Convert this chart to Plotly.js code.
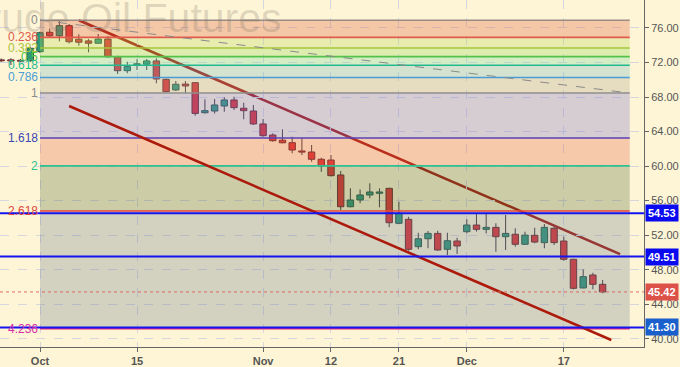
<!DOCTYPE html>
<html>
<head>
<meta charset="utf-8">
<script src="https://cdn.plot.ly/plotly-3.0.1.min.js"></script>
<style>html,body{margin:0;padding:0;background:#fef5d6;}#chart{width:680px;height:367px;}</style>
</head>
<body>
<div id="chart"></div>
<script>
// ---------- DATA ----------
const dates = ['2018-09-25','2018-09-26','2018-09-27','2018-09-28',
 '2018-10-01','2018-10-02','2018-10-03','2018-10-04','2018-10-05','2018-10-08','2018-10-09','2018-10-10','2018-10-11','2018-10-12',
 '2018-10-15','2018-10-16','2018-10-17','2018-10-18','2018-10-19','2018-10-22','2018-10-23','2018-10-24','2018-10-25','2018-10-26',
 '2018-10-29','2018-10-30','2018-10-31','2018-11-01','2018-11-02','2018-11-05','2018-11-06','2018-11-07','2018-11-08','2018-11-09',
 '2018-11-12','2018-11-13','2018-11-14','2018-11-15','2018-11-16','2018-11-19','2018-11-20','2018-11-21','2018-11-23',
 '2018-11-26','2018-11-27','2018-11-28','2018-11-29','2018-11-30','2018-12-03','2018-12-04','2018-12-05','2018-12-06','2018-12-07',
 '2018-12-10','2018-12-11','2018-12-12','2018-12-13','2018-12-14','2018-12-17','2018-12-18','2018-12-19','2018-12-20','2018-12-21'];
const openP  = [72.30,72.30,72.25,72.20, 73.25,75.50,75.10,76.27,74.70,74.50,74.23,74.72,72.67,71.05,
 71.75,71.80,72.18,70.05,68.82,69.50,69.66,66.18,66.38,66.96, 67.66,66.70,66.38,64.88,63.60,63.00,62.71,61.75,61.63,60.79,
 60.70,58.97,55.29,56.07,56.65,56.85,57.42,53.37,53.83, 50.66,51.58,52.20,50.36,51.32,52.40,53.17,52.67,52.90,51.82,
 52.10,50.94,51.98,51.13,52.79,51.32,49.20,45.88,47.38,46.30];
const highP  = [72.45,72.49,72.40,73.76, 75.60,75.95,76.85,76.46,75.27,74.72,75.30,75.07,72.78,72.10,
 72.37,72.40,72.49,70.15,69.86,69.86,69.70,67.74,67.77,67.97, 68.04,67.35,67.08,65.45,63.80,64.26,63.40,63.22,62.44,60.97,
 61.28,59.43,57.42,57.30,58.00,57.42,57.50,55.87,54.14, 52.28,52.48,52.51,52.28,51.70,53.83,54.53,54.53,53.37,54.33,
 52.79,52.40,52.86,53.29,52.98,51.82,49.25,48.04,47.65,46.80];
const lowP   = [72.05,71.71,72.05,72.10, 73.10,74.95,74.45,74.20,73.95,73.18,74.20,72.56,70.67,70.75,
 71.13,71.13,69.60,68.50,68.70,68.43,65.84,66.10,66.10,66.30, 66.50,65.42,64.76,63.40,62.83,62.64,61.48,61.28,60.51,59.35,
 58.80,54.91,55.22,55.69,56.27,55.22,52.90,53.30,50.20, 50.36,50.47,50.20,49.70,49.81,52.20,52.40,52.20,50.08,50.28,
 50.66,50.86,51.05,50.47,50.86,49.04,45.72,45.84,45.72,45.26];
const closeP = [72.20,72.18,72.15,73.65, 75.45,75.10,76.27,74.41,74.35,74.23,74.72,72.67,71.05,71.52,
 71.85,72.18,70.09,68.62,69.48,69.28,66.10,66.42,67.08,67.66, 66.77,66.42,64.88,63.52,62.94,62.70,61.86,61.62,60.79,60.01,
 58.89,55.29,56.07,56.65,57.00,57.00,53.44,54.53,50.36, 51.58,52.20,50.28,51.35,50.74,53.17,52.67,52.90,51.82,52.20,
 50.94,52.00,51.20,52.90,51.13,49.20,45.84,47.19,46.30,45.42];

const tickDates = ['2018-10-01','2018-10-15','2018-11-01','2018-11-12','2018-11-21','2018-12-03','2018-12-17'];
const tickLabels = ['Oct','15','Nov','12','21','Dec','17'];

// Fibonacci extension drawing (bar index = position on the category axis)
const fibStart = 4, fibEnd = 64.8;
const fibPrice0 = 76.90, fibPrice1 = 68.46;
const fibRatios = [0, 0.236, 0.382, 0.5, 0.618, 0.786, 1, 1.618, 2, 2.618, 4.236];
const fibLabels = ['0','0.236','0.382','0.5','0.618','0.786','1','1.618','2','2.618','4.236'];

// Trend channel lines [barIndex, price]
const upperTrend = [[8, 76.90], [63.8, 49.80]];
const lowerTrend = [[7, 66.96], [62.9, 39.85]];
const fibTrend   = [[4, 76.90], [64.8, 68.46]];

// Horizontal levels
const levels = [54.53, 49.51, 41.30];
const lastPrice = 45.42;

// ---------- STYLE ----------
const BG = '#fef5d6';
const FONT = 'Liberation Sans, Arial, sans-serif';
const fibLineColors = ['#9a8c84','#e25a4e','#a6c63a','#52c24a','#22b892','#4a9cd8','#8f8f8f','#5840b8','#2cc092','#e4473c','#e8287a'];
const fibLabelColors = ['#8c8c8c','#e05a4c','#a8c43a','#4cc444','#26bc8e','#4a9ed6','#8c8c8c','#3c46b4','#30bf8e','#e0463c','#d62aa8'];
const bandObserved = ['#f4c8a8','#e8ecb0','#dcedb0','#d5edc4','#d3e3cf','#e6dcc0','#d6cdd2','#f5c9aa','#cdcca8','#d3d1c0'];
const bandAlpha = 0.3;

function hex2rgb(h){h=h.replace('#','');return [0,2,4].map(i=>parseInt(h.substr(i,2),16));}
function bandColor(obs){
  const o=hex2rgb(obs), b=hex2rgb(BG);
  const c=o.map((v,i)=>Math.max(0,Math.min(255,Math.round((v-(1-bandAlpha)*b[i])/bandAlpha))));
  return 'rgba('+c[0]+','+c[1]+','+c[2]+','+bandAlpha+')';
}
const fibPrice = r => fibPrice0 - r*(fibPrice0 - fibPrice1);

const shapes = [];
shapes.push({type:'line', layer:'below', xref:'x', yref:'y',
  x0:upperTrend[0][0], y0:upperTrend[0][1], x1:upperTrend[1][0], y1:upperTrend[1][1],
  line:{color:'#a8190c', width:2.6}});
for (let i=0;i<fibRatios.length-1;i++){
  shapes.push({type:'rect', layer:'above', xref:'x', yref:'y',
    x0:fibStart, x1:fibEnd, y0:fibPrice(fibRatios[i]), y1:fibPrice(fibRatios[i+1]),
    fillcolor:bandColor(bandObserved[i]), line:{width:0}});
}
fibRatios.forEach((r,i)=>{
  shapes.push({type:'line', layer:'above', xref:'x', yref:'y',
    x0:fibStart, x1:fibEnd, y0:fibPrice(r), y1:fibPrice(r),
    line:{color:fibLineColors[i], width:1.6}});
});
shapes.push({type:'line', layer:'above', xref:'x', yref:'y',
  x0:fibTrend[0][0], y0:fibTrend[0][1], x1:fibTrend[1][0], y1:fibTrend[1][1],
  line:{color:'#8a8a8a', width:1, dash:'dash'}});
shapes.push({type:'line', layer:'above', xref:'x', yref:'y',
  x0:lowerTrend[0][0], y0:lowerTrend[0][1], x1:lowerTrend[1][0], y1:lowerTrend[1][1],
  line:{color:'#ac1a0c', width:2.6}});
levels.forEach(v=>{
  shapes.push({type:'line', layer:'above', xref:'paper', yref:'y', x0:0, x1:1, y0:v, y1:v,
    line:{color:'#1414f0', width:2}});
});
shapes.push({type:'line', layer:'above', xref:'paper', yref:'y', x0:0, x1:1, y0:lastPrice, y1:lastPrice,
  line:{color:'#e06a64', width:1, dash:'dot'}});

const annotations = [];
annotations.push({xref:'paper', yref:'paper', x:-0.068, y:0.948, xanchor:'left', yanchor:'middle',
  text:'Crude Oil Futures', showarrow:false,
  font:{family:FONT, size:41, color:'rgba(110,100,90,0.22)'}});
fibRatios.forEach((r,i)=>{
  annotations.push({xref:'x', yref:'y', x:fibStart, y:fibPrice(r), xanchor:'right', yanchor:'middle',
    xshift:-1, text:fibLabels[i], showarrow:false, borderpad:0,
    font:{family:FONT, size:12, color:fibLabelColors[i]}});
});
const levelBoxColors = ['#0a0af0','#0a0af0','#1a5fcc'];
levels.forEach((v,i)=>{
  annotations.push({xref:'paper', yref:'y', x:1, y:v, xanchor:'left', yanchor:'middle', xshift:1,
    text:'<b>'+v.toFixed(2)+'</b>', showarrow:false, bgcolor:levelBoxColors[i], borderpad:2,
    font:{family:FONT, size:11, color:'#ffffff'}});
});
annotations.push({xref:'paper', yref:'y', x:1, y:lastPrice, xanchor:'left', yanchor:'middle', xshift:1,
  text:'<b>'+lastPrice.toFixed(2)+'</b>', showarrow:false, bgcolor:'#dc5248', borderpad:2,
  font:{family:FONT, size:11, color:'#ffffff'}});

// candles: wick bars + body bars
const up = closeP.map((c,i)=>c>=openP[i]);
const wicks = {
  type:'bar', x:dates, base:lowP, y:highP.map((h,i)=>h-lowP[i]), width:0.11,
  marker:{color:'#4b4444', line:{width:0}}, hoverinfo:'skip', showlegend:false
};
const bodies = {
  type:'bar', x:dates, base:openP.map((o,i)=>Math.min(o,closeP[i])),
  y:openP.map((o,i)=>Math.max(Math.abs(closeP[i]-o),0.06)), width:0.66,
  marker:{color:up.map(u=>u?'#2f9a78':'#e03232'),
          line:{color:up.map(u=>u?'#2c5646':'#66282a'), width:1}},
  hoverinfo:'skip', showlegend:false
};

const layout = {
  width:680, height:367,
  margin:{l:0, r:36, t:0, b:20},
  paper_bgcolor:BG, plot_bgcolor:BG,
  showlegend:false, barmode:'overlay',
  xaxis:{type:'category', range:[-0.124, 66.27],
    tickmode:'array', tickvals:tickDates, ticktext:tickLabels,
    showgrid:true, gridcolor:'#d6d6de', griddash:'dash', gridwidth:1,
    showline:true, linecolor:'#666', linewidth:1, ticks:'outside', ticklen:4, tickcolor:'#666',
    tickfont:{family:FONT, size:11, color:'#555', weight:'bold'},
    zeroline:false, fixedrange:true},
  yaxis:{side:'right', range:[39.04, 79.24], dtick:4, tick0:0, tickformat:'.2f',
    showgrid:true, gridcolor:'#d6d6de', griddash:'dash', gridwidth:1,
    showline:true, linecolor:'#666', linewidth:1, ticks:'outside', ticklen:4, tickcolor:'#666',
    tickfont:{family:FONT, size:11, color:'#555'},
    zeroline:false, fixedrange:true},
  shapes:shapes, annotations:annotations
};

Plotly.newPlot('chart', [wicks, bodies], layout, {staticPlot:true, displayModeBar:false});
</script>
</body>
</html>
